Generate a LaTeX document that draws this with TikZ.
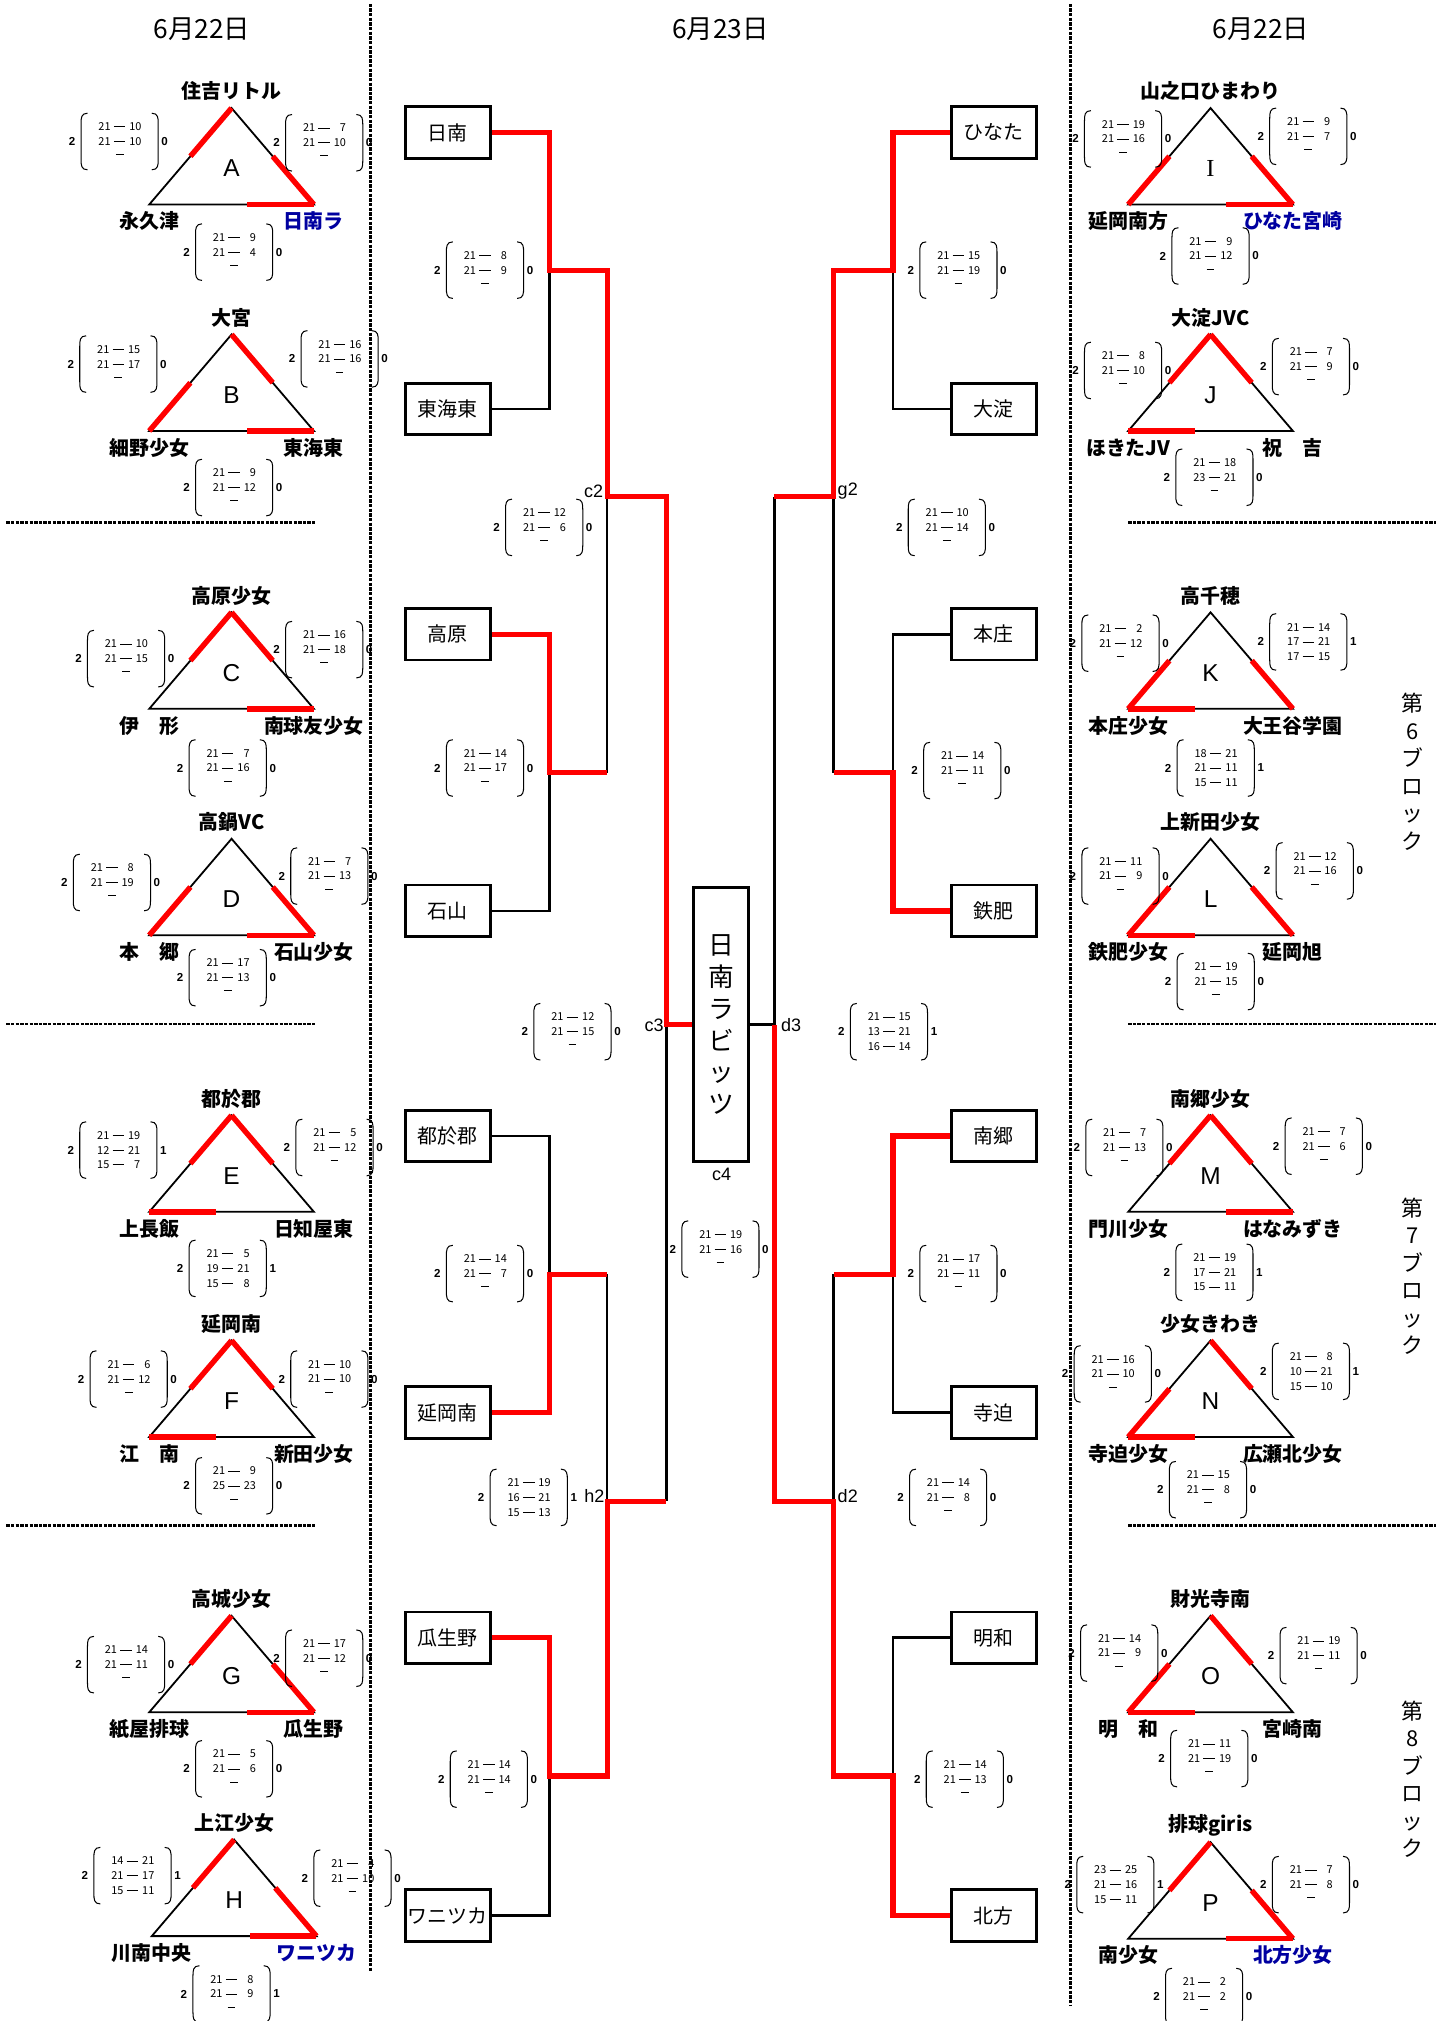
\documentclass[tikz,border=0pt]{standalone}
\usepackage{fontspec}
\setmainfont{Noto Sans CJK JP}
\newfontfamily\lat{Liberation Sans}
\newfontfamily\latser{Liberation Serif}
\usetikzlibrary{calc}
\definecolor{nblue}{RGB}{0,0,160}
\newcommand\scl[2]{\makebox[10pt][r]{#1}\makebox[14pt]{\rule[2.7pt]{9pt}{0.6pt}}\makebox[10pt][r]{#2}}
\newcommand\scd{\rule[2.7pt]{6pt}{0.6pt}}
\tikzset{
 tbox/.style={draw, line width=2.2pt, minimum width=66pt, minimum height=40pt, inner sep=0pt, font=\fontsize{15.5}{16}\selectfont},
 blk/.style={line width=2pt, black},
 rd/.style={line width=4.2pt, red},
 triedge/.style={line width=1.4pt, black},
 redseg/.style={line width=4.2pt, red},
 tletter/.style={font=\lat\fontsize{19}{20}\selectfont, inner sep=0},
 tname/.style={font=\bfseries\fontsize{15.5}{16}\selectfont, inner sep=0},
 sline/.style={font=\fontsize{8.5}{9}\selectfont, inner sep=0},
 snum/.style={font=\lat\bfseries\fontsize{9}{10}\selectfont, inner sep=0},
 paren/.style={line width=0.8pt},
 rlbl/.style={font=\lat\fontsize{14}{15}\selectfont, inner sep=0},
 hdr/.style={font=\fontsize{20.5}{21}\selectfont, inner sep=0},
 vlbl/.style={font=\fontsize{17}{21.4}\selectfont, align=center, inner sep=0},
 sep/.style={line width=2.2pt, dash pattern=on 2.6pt off 1pt},
}
\newcommand\trio[7]{%
 \begin{scope}[shift={(#2)}]
  \coordinate (#1T) at (0,0);
  \coordinate (#1L) at (-64,75);
  \coordinate (#1R) at (64,75);
  \coordinate (#1TL) at (-32,37.5);
  \coordinate (#1TR) at (32,37.5);
  \coordinate (#1mL) at (-12,75);
  \coordinate (#1mR) at (12,75);
  \draw[triedge] (#1T) -- (#1L) -- (#1R) -- cycle;
  \foreach \a/\b in {#4} {\draw[redseg] (#1\a) -- (#1\b);}
  \node[tletter] (#1let) at (0,47) {#3};
  \node[tname] (#1top) at (0,-13) {#5};
  \node[tname] (#1bl) at (-64,88) {#6};
  \node[tname] (#1br) at (64,88) {#7};
 \end{scope}}
\newcommand\scorebox[7]{%
 \begin{scope}[shift={(#2)}]
  \node[sline] (#1a) at (0,-11.5) {#3};
  \node[sline] (#1b) at (0,0) {#4};
  \node[sline] (#1c) at (0,11.5) {#5};
  \draw[paren] (-25,-22) .. controls (-30,-22) and (-30,-18) .. (-30,-14) -- (-30,14) .. controls (-30,18) and (-30,22) .. (-25,22);
  \draw[paren] (25,-22) .. controls (30,-22) and (30,-18) .. (30,-14) -- (30,14) .. controls (30,18) and (30,22) .. (25,22);
  \node[snum] (#1w) at (-37,0) {#6};
  \node[snum] (#1l) at (35,0) {#7};
 \end{scope}}
\begin{document}
\begin{tikzpicture}[x=1pt,y=-1pt]
\useasboundingbox (0,0) rectangle (1125,1571);
% headers
\node[hdr] (h1) at (157,23) {6月22日};
\node[hdr] (h2) at (560,23) {6月23日};
\node[hdr] (h3) at (980,23) {6月22日};
% separators
\draw[sep] (288,3) -- (288,1532);
\draw[sep] (832,3) -- (832,1559);
\foreach \yy in {406,796,1186} {
 \draw[sep] (5,\yy) -- (245,\yy);
 \draw[sep] (877,\yy) -- (1116,\yy);
}
% block labels
\node[vlbl] (b6) at (1098,600) {第\\6\\ブ\\ロ\\ッ\\ク};
\node[vlbl] (b7) at (1098,992) {第\\7\\ブ\\ロ\\ッ\\ク};
\node[vlbl] (b8) at (1098,1383) {第\\8\\ブ\\ロ\\ッ\\ク};
% boxes
\node[tbox] (nichinan) at (348,103) {日南};
\node[tbox] (toukaitou) at (348,318) {東海東};
\node[tbox] (takahara) at (348,493) {高原};
\node[tbox] (ishiyama) at (348,708) {石山};
\node[tbox] (tonokori) at (348,883) {都於郡};
\node[tbox] (nobeokam) at (348,1098) {延岡南};
\node[tbox] (uryuno) at (348,1273) {瓜生野};
\node[tbox] (wanitsuka) at (348,1489) {ワニツカ};
\node[tbox] (hinata) at (772.5,103) {ひなた};
\node[tbox] (oyodo) at (772.5,318) {大淀};
\node[tbox] (honjo) at (772.5,493) {本庄};
\node[tbox] (obi) at (772.5,708) {鉄肥};
\node[tbox] (nango) at (772.5,883) {南郷};
\node[tbox] (terasako) at (772.5,1098) {寺迫};
\node[tbox] (meiwa) at (772.5,1273) {明和};
\node[tbox] (kitakata) at (772.5,1489) {北方};
\node[draw, line width=2.2pt, minimum width=43pt, minimum height=213pt, inner sep=0pt, align=center, font=\fontsize{20}{24.7}\selectfont] (final) at (560.5,796.5) {日\\南\\ラ\\ビ\\ッ\\ツ};
% junctions
\coordinate (a1) at (427,210.5);
\coordinate (a2) at (427,600.5);
\coordinate (a3) at (427,990.5);
\coordinate (a4) at (427,1380.5);
\coordinate (b1) at (472,386);
\coordinate (b2) at (472,1167);
\coordinate (c1) at (518,796.5);
\coordinate (p1) at (694,210.5);
\coordinate (p2) at (694,600.5);
\coordinate (p3) at (694,990.5);
\coordinate (p4) at (694,1380.5);
\coordinate (q1) at (648,386);
\coordinate (q2) at (648,1167);
\coordinate (r1) at (602,796.5);
% black bracket lines
\draw[blk] (toukaitou.east) -| (a1);
\draw[blk] (ishiyama.east) -| (a2);
\draw[blk] (a2 -| b1) -- (b1);
\draw[blk] (c1) -- (b2 -| c1);
\draw[blk] (tonokori.east) -| (a3);
\draw[blk] (a3 -| b2) -- (b2);
\draw[blk] (wanitsuka.east) -| (a4);
\draw[blk] (oyodo.west) -| (p1);
\draw[blk] (honjo.west) -| (p2);
\draw[blk] (p2 -| q1) -- (q1);
\draw[blk] (q1 -| r1) -- (r1) -- (final.east);
\draw[blk] (terasako.west) -| (p3);
\draw[blk] (p3 -| q2) -- (q2);
\draw[blk] (meiwa.west) -| (p4);
% red bracket lines
\draw[rd] (nichinan.east) -| (a1) -- (a1 -| b1) -- (b1) -- (b1 -| c1) -- (c1) -- (final.west);
\draw[rd] (takahara.east) -| (a2) -- (a2 -| b1);
\draw[rd] (nobeokam.east) -| (a3) -- (a3 -| b2);
\draw[rd] (uryuno.east) -| (a4) -- (a4 -| b2) -- (b2) -- (b2 -| c1);
\draw[rd] (hinata.west) -| (p1) -- (p1 -| q1) -- (q1) -- (q1 -| r1);
\draw[rd] (obi.west) -| (p2) -- (p2 -| q1);
\draw[rd] (nango.west) -| (p3) -- (p3 -| q2);
\draw[rd] (kitakata.west) -| (p4) -- (p4 -| q2) -- (q2) -- (q2 -| r1) -- (r1);
% round labels
\node[rlbl, anchor=east] (lc2) at (469,382) {c2};
\node[rlbl, anchor=west] (lg2) at (651,382) {g2};
\node[rlbl, anchor=east] (lc3) at (516,797) {c3};
\node[rlbl, anchor=west] (ld3) at (607,797) {d3};
\node[rlbl] (lc4) at (561,913) {c4};
\node[rlbl, anchor=east] (lh2) at (470,1163) {h2};
\node[rlbl, anchor=west] (ld2) at (651,1163) {d2};
% bracket scores
\scorebox{s1}{377,210}{\scl{21}{8}}{\scl{21}{9}}{\scd}{2}{0}
\scorebox{s2}{423,410}{\scl{21}{12}}{\scl{21}{6}}{\scd}{2}{0}
\scorebox{s3}{377,597}{\scl{21}{14}}{\scl{21}{17}}{\scd}{2}{0}
\scorebox{s4}{445,802}{\scl{21}{12}}{\scl{21}{15}}{\scd}{2}{0}
\scorebox{s5}{377,990}{\scl{21}{14}}{\scl{21}{7}}{\scd}{2}{0}
\scorebox{s6}{411,1164}{\scl{21}{19}}{\scl{16}{21}}{\scl{15}{13}}{2}{1}
\scorebox{s7}{380,1383}{\scl{21}{14}}{\scl{21}{14}}{\scd}{2}{0}
\scorebox{r1s}{745,210}{\scl{21}{15}}{\scl{21}{19}}{\scd}{2}{0}
\scorebox{r2s}{736,410}{\scl{21}{10}}{\scl{21}{14}}{\scd}{2}{0}
\scorebox{r3s}{748,599}{\scl{21}{14}}{\scl{21}{11}}{\scd}{2}{0}
\scorebox{r4s}{691,802}{\scl{21}{15}}{\scl{13}{21}}{\scl{16}{14}}{2}{1}
\scorebox{r5s}{560,971}{\scl{21}{19}}{\scl{21}{16}}{\scd}{2}{0}
\scorebox{r6s}{745,990}{\scl{21}{17}}{\scl{21}{11}}{\scd}{2}{0}
\scorebox{r7s}{737,1164}{\scl{21}{14}}{\scl{21}{8}}{\scd}{2}{0}
\scorebox{r8s}{750,1383}{\scl{21}{14}}{\scl{21}{13}}{\scd}{2}{0}
% triangles left
\trio{tA}{180,84}{A}{T/TL,R/TR,R/mR}{住吉リトル}{永久津}{\color{nblue}日南ラ}
\trio{tB}{180,260}{B}{L/TL,T/TR,R/mR}{大宮}{細野少女}{東海東}
\trio{tC}{180,476}{C}{T/TL,T/TR,R/mR}{高原少女}{伊　形}{南球友少女}
\trio{tD}{180,652}{D}{L/TL,R/TR,R/mR}{高鍋VC}{本　郷}{石山少女}
\trio{tE}{180,867}{E}{T/TL,T/TR,L/mL}{都於郡}{上長飯}{日知屋東}
\trio{tF}{180,1042}{F}{T/TL,T/TR,L/mL}{延岡南}{江　南}{新田少女}
\trio{tG}{180,1256}{G}{T/TL,R/TR,R/mR}{高城少女}{紙屋排球}{瓜生野}
\trio{tH}{182,1430}{H}{T/TL,R/TR,R/mR}{上江少女}{川南中央}{\color{nblue}ワニツカ}
% triangles right
\trio{tI}{941,84}{\latser I}{L/TL,R/TR,R/mR}{山之口ひまわり}{延岡南方}{\color{nblue}ひなた宮崎}
\trio{tJ}{941,260}{J}{T/TL,T/TR,L/mL}{大淀JVC}{ほきたJV}{祝　吉}
\trio{tK}{941,476}{K}{L/TL,R/TR,L/mL}{高千穂}{本庄少女}{大王谷学園}
\trio{tL}{941,652}{L}{L/TL,R/TR,L/mL}{上新田少女}{鉄肥少女}{延岡旭}
\trio{tM}{941,867}{M}{T/TL,T/TR,R/mR}{南郷少女}{門川少女}{はなみずき}
\trio{tN}{941,1042}{N}{L/TL,T/TR,L/mL}{少女きわき}{寺迫少女}{広瀬北少女}
\trio{tO}{941,1256}{O}{L/TL,T/TR,L/mL}{財光寺南}{明　和}{宮崎南}
\trio{tP}{941,1432}{P}{T/TL,R/TR,R/mR}{排球giris}{南少女}{\color{nblue}北方少女}
% triangle scores left
\scorebox{sAl}{93,110}{\scl{21}{10}}{\scl{21}{10}}{\scd}{2}{0}
\scorebox{sAr}{252,111}{\scl{21}{7}}{\scl{21}{10}}{\scd}{2}{0}
\scorebox{sAb}{182,196}{\scl{21}{9}}{\scl{21}{4}}{\scd}{2}{0}
\scorebox{sBl}{92,283}{\scl{21}{15}}{\scl{21}{17}}{\scd}{2}{0}
\scorebox{sBr}{264,279}{\scl{21}{16}}{\scl{21}{16}}{\scd}{2}{0}
\scorebox{sBb}{182,379}{\scl{21}{9}}{\scl{21}{12}}{\scd}{2}{0}
\scorebox{sCl}{98,512}{\scl{21}{10}}{\scl{21}{15}}{\scd}{2}{0}
\scorebox{sCr}{252,505}{\scl{21}{16}}{\scl{21}{18}}{\scd}{2}{0}
\scorebox{sCb}{177,597}{\scl{21}{7}}{\scl{21}{16}}{\scd}{2}{0}
\scorebox{sDl}{87,686}{\scl{21}{8}}{\scl{21}{19}}{\scd}{2}{0}
\scorebox{sDr}{256,681}{\scl{21}{7}}{\scl{21}{13}}{\scd}{2}{0}
\scorebox{sDb}{177,760}{\scl{21}{17}}{\scl{21}{13}}{\scd}{2}{0}
\scorebox{sEl}{92,894}{\scl{21}{19}}{\scl{12}{21}}{\scl{15}{7}}{2}{1}
\scorebox{sEr}{260,892}{\scl{21}{5}}{\scl{21}{12}}{\scd}{2}{0}
\scorebox{sEb}{177,986}{\scl{21}{5}}{\scl{19}{21}}{\scl{15}{8}}{2}{1}
\scorebox{sFl}{100,1072}{\scl{21}{6}}{\scl{21}{12}}{\scd}{2}{0}
\scorebox{sFr}{256,1072}{\scl{21}{10}}{\scl{21}{10}}{\scd}{2}{0}
\scorebox{sFb}{182,1155}{\scl{21}{9}}{\scl{25}{23}}{\scd}{2}{0}
\scorebox{sGl}{98,1294}{\scl{21}{14}}{\scl{21}{11}}{\scd}{2}{0}
\scorebox{sGr}{252,1289}{\scl{21}{17}}{\scl{21}{12}}{\scd}{2}{0}
\scorebox{sGb}{182,1375}{\scl{21}{5}}{\scl{21}{6}}{\scd}{2}{0}
\scorebox{sHl}{103,1458}{\scl{14}{21}}{\scl{21}{17}}{\scl{15}{11}}{2}{1}
\scorebox{sHr}{274,1460}{\scl{21}{4}}{\scl{21}{10}}{\scd}{2}{0}
\scorebox{sHb}{180,1550}{\scl{21}{8}}{\scl{21}{9}}{\scd}{2}{1}
% triangle scores right
\scorebox{sIl}{873,108}{\scl{21}{19}}{\scl{21}{16}}{\scd}{2}{0}
\scorebox{sIr}{1017,106}{\scl{21}{9}}{\scl{21}{7}}{\scd}{2}{0}
\scorebox{sIb}{941,199}{\scl{21}{9}}{\scl{21}{12}}{\scd}{2}{0}
\scorebox{sJl}{873,288}{\scl{21}{8}}{\scl{21}{10}}{\scd}{2}{0}
\scorebox{sJr}{1019,285}{\scl{21}{7}}{\scl{21}{9}}{\scd}{2}{0}
\scorebox{sJb}{944,371}{\scl{21}{18}}{\scl{23}{21}}{\scd}{2}{0}
\scorebox{sKl}{871,500}{\scl{21}{2}}{\scl{21}{12}}{\scd}{2}{0}
\scorebox{sKr}{1017,499}{\scl{21}{14}}{\scl{17}{21}}{\scl{17}{15}}{2}{1}
\scorebox{sKb}{945,597}{\scl{18}{21}}{\scl{21}{11}}{\scl{15}{11}}{2}{1}
\scorebox{sLl}{871,681}{\scl{21}{11}}{\scl{21}{9}}{\scd}{2}{0}
\scorebox{sLr}{1022,677}{\scl{21}{12}}{\scl{21}{16}}{\scd}{2}{0}
\scorebox{sLb}{945,763}{\scl{21}{19}}{\scl{21}{15}}{\scd}{2}{0}
\scorebox{sMl}{874,892}{\scl{21}{7}}{\scl{21}{13}}{\scd}{2}{0}
\scorebox{sMr}{1029,891}{\scl{21}{7}}{\scl{21}{6}}{\scd}{2}{0}
\scorebox{sMb}{944,989}{\scl{21}{19}}{\scl{17}{21}}{\scl{15}{11}}{2}{1}
\scorebox{sNl}{865,1068}{\scl{21}{16}}{\scl{21}{10}}{\scd}{2}{0}
\scorebox{sNr}{1019,1066}{\scl{21}{8}}{\scl{10}{21}}{\scl{15}{10}}{2}{1}
\scorebox{sNb}{939,1158}{\scl{21}{15}}{\scl{21}{8}}{\scd}{2}{0}
\scorebox{sOl}{870,1285}{\scl{21}{14}}{\scl{21}{9}}{\scd}{2}{0}
\scorebox{sOr}{1025,1287}{\scl{21}{19}}{\scl{21}{11}}{\scd}{2}{0}
\scorebox{sOb}{940,1367}{\scl{21}{11}}{\scl{21}{19}}{\scd}{2}{0}
\scorebox{sPl}{867,1465}{\scl{23}{25}}{\scl{21}{16}}{\scl{15}{11}}{2}{1}
\scorebox{sPr}{1019,1465}{\scl{21}{7}}{\scl{21}{8}}{\scd}{2}{0}
\scorebox{sPb}{936,1552}{\scl{21}{2}}{\scl{21}{2}}{\scd}{2}{0}
\end{tikzpicture}
\end{document}
